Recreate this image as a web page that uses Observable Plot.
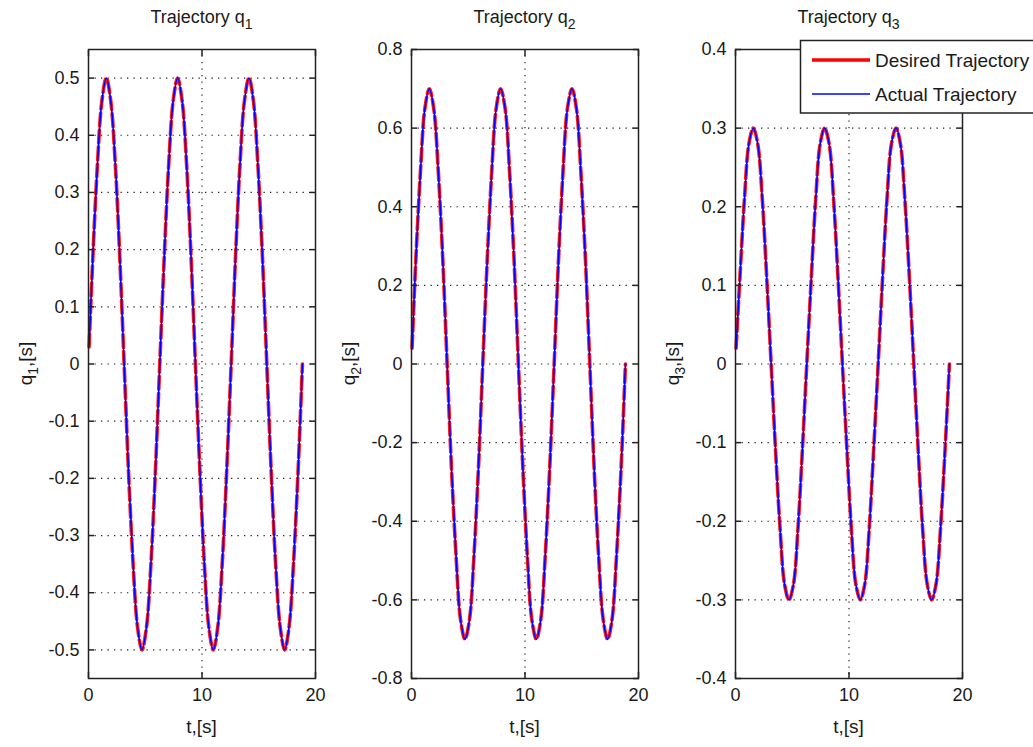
<!DOCTYPE html>
<html>
<head>
<meta charset="utf-8">
<script src="https://cdn.jsdelivr.net/npm/d3@7"></script>
<script src="https://cdn.jsdelivr.net/npm/@observablehq/plot@0.6"></script>
<style>
  body { margin: 0; background: #fff; }
  #wrap { position: relative; width: 1033px; height: 747px; overflow: hidden; background: #fff;
          font-family: "Liberation Sans", Arial, sans-serif; }
  #wrap > svg { position: absolute; top: 0; }
</style>
</head>
<body>
<div id="wrap"></div>
<script>
// ---- data ----
const time = [0.05, 0.39, 0.79, 1.18, 1.57, 1.96, 2.36, 2.75, 3.14, 3.53, 3.93, 4.32, 4.71, 5.11, 5.50, 5.89,
  6.28, 6.68, 7.07, 7.46, 7.85, 8.25, 8.64, 9.03, 9.42, 9.82, 10.21, 10.60, 11.00, 11.39, 11.78, 12.17,
  12.57, 12.96, 13.35, 13.74, 14.14, 14.53, 14.92, 15.32, 15.71, 16.10, 16.49, 16.89, 17.28, 17.67, 18.06, 18.46,
  18.85];

const q1Desired = [0.03, 0.19, 0.35, 0.46, 0.50, 0.46, 0.35, 0.19, 0.00, -0.19, -0.35, -0.46, -0.50, -0.46, -0.35, -0.19,
  0.00, 0.19, 0.35, 0.46, 0.50, 0.46, 0.35, 0.19, 0.00, -0.19, -0.35, -0.46, -0.50, -0.46, -0.35, -0.19,
  0.00, 0.19, 0.35, 0.46, 0.50, 0.46, 0.35, 0.19, 0.00, -0.19, -0.35, -0.46, -0.50, -0.46, -0.35, -0.19,
  0.00];
const q2Desired = [0.04, 0.27, 0.49, 0.65, 0.70, 0.65, 0.49, 0.27, 0.00, -0.27, -0.49, -0.65, -0.70, -0.65, -0.49, -0.27,
  0.00, 0.27, 0.49, 0.65, 0.70, 0.65, 0.49, 0.27, 0.00, -0.27, -0.49, -0.65, -0.70, -0.65, -0.49, -0.27,
  0.00, 0.27, 0.49, 0.65, 0.70, 0.65, 0.49, 0.27, 0.00, -0.27, -0.49, -0.65, -0.70, -0.65, -0.49, -0.27,
  0.00];
const q3Desired = [0.02, 0.11, 0.21, 0.28, 0.30, 0.28, 0.21, 0.11, 0.00, -0.11, -0.21, -0.28, -0.30, -0.28, -0.21, -0.11,
  0.00, 0.11, 0.21, 0.28, 0.30, 0.28, 0.21, 0.11, 0.00, -0.11, -0.21, -0.28, -0.30, -0.28, -0.21, -0.11,
  0.00, 0.11, 0.21, 0.28, 0.30, 0.28, 0.21, 0.11, 0.00, -0.11, -0.21, -0.28, -0.30, -0.28, -0.21, -0.11,
  0.00];
// actual trajectory is visually indistinguishable from the desired one
const q1Actual = [0.03, 0.19, 0.35, 0.46, 0.50, 0.46, 0.35, 0.19, 0.00, -0.19, -0.35, -0.46, -0.50, -0.46, -0.35, -0.19,
  0.00, 0.19, 0.35, 0.46, 0.50, 0.46, 0.35, 0.19, 0.00, -0.19, -0.35, -0.46, -0.50, -0.46, -0.35, -0.19,
  0.00, 0.19, 0.35, 0.46, 0.50, 0.46, 0.35, 0.19, 0.00, -0.19, -0.35, -0.46, -0.50, -0.46, -0.35, -0.19,
  0.00];
const q2Actual = [0.04, 0.27, 0.49, 0.65, 0.70, 0.65, 0.49, 0.27, 0.00, -0.27, -0.49, -0.65, -0.70, -0.65, -0.49, -0.27,
  0.00, 0.27, 0.49, 0.65, 0.70, 0.65, 0.49, 0.27, 0.00, -0.27, -0.49, -0.65, -0.70, -0.65, -0.49, -0.27,
  0.00, 0.27, 0.49, 0.65, 0.70, 0.65, 0.49, 0.27, 0.00, -0.27, -0.49, -0.65, -0.70, -0.65, -0.49, -0.27,
  0.00];
const q3Actual = [0.02, 0.11, 0.21, 0.28, 0.30, 0.28, 0.21, 0.11, 0.00, -0.11, -0.21, -0.28, -0.30, -0.28, -0.21, -0.11,
  0.00, 0.11, 0.21, 0.28, 0.30, 0.28, 0.21, 0.11, 0.00, -0.11, -0.21, -0.28, -0.30, -0.28, -0.21, -0.11,
  0.00, 0.11, 0.21, 0.28, 0.30, 0.28, 0.21, 0.11, 0.00, -0.11, -0.21, -0.28, -0.30, -0.28, -0.21, -0.11,
  0.00];

const panelIndex = ["1", "2", "3"];
const yDomains = [[-0.55, 0.55], [-0.8, 0.8], [-0.4, 0.4]];
const yTicks1 = [-0.5, -0.4, -0.3, -0.2, -0.1, 0, 0.1, 0.2, 0.3, 0.4, 0.5];
const yTicks2 = [-0.8, -0.6, -0.4, -0.2, 0, 0.2, 0.4, 0.6, 0.8];
const yTicks3 = [-0.4, -0.3, -0.2, -0.1, 0, 0.1, 0.2, 0.3, 0.4];
const xDomain = [0, 20];
const xTicks = [0, 10, 20];
const xGrid = [10];
const legendLabels = ["Desired Trajectory", "Actual Trajectory"];
const seriesColors = ["#ff0000", "#0000ff"];

// ---- drawing ----
const FONT = '"Liberation Sans", Arial, sans-serif';
const wrap = document.getElementById("wrap");
const desired = [q1Desired, q2Desired, q3Desired];
const actual = [q1Actual, q2Actual, q3Actual];
const yTicksAll = [yTicks1, yTicks2, yTicks3];

const W = 340, H = 747, ML = 88, MR = 25, MT = 49, MB = 69;
const offsets = [0, 323, 647];
const textColor = "#1a1a1a";

panelIndex.forEach((idx, i) => {
  const rows = time.map((t, j) => ({t, desired: desired[i][j], actual: actual[i][j]}));
  const yt = yTicksAll[i];
  const svg = Plot.plot({
    width: W, height: H,
    marginLeft: ML, marginRight: MR, marginTop: MT, marginBottom: MB,
    style: {fontFamily: FONT, fontSize: "18px", color: textColor, background: "transparent", overflow: "visible"},
    x: {domain: xDomain},
    y: {domain: yDomains[i]},
    marks: [
      Plot.ruleY(yt, {stroke: "#222", strokeWidth: 1.2, strokeDasharray: "1.3,5.2"}),
      Plot.ruleX(xGrid, {stroke: "#222", strokeWidth: 1.2, strokeDasharray: "1.3,5.2"}),
      Plot.line(rows, {x: "t", y: "desired", stroke: seriesColors[0], strokeWidth: 3.6, strokeOpacity: 0.9,
        strokeDasharray: "13,4", curve: "catmull-rom"}),
      Plot.line(rows, {x: "t", y: "actual", stroke: seriesColors[1], strokeWidth: 1.5, curve: "catmull-rom"}),
      Plot.frame({stroke: "#222", strokeWidth: 1.5}),
      Plot.axisY(yt, {anchor: "left", tickSize: 0, tickPadding: 9, tickFormat: d => String(d), label: null}),
      Plot.axisY(yt, {anchor: "left", tickSize: -6, fill: "none", stroke: "#222", strokeWidth: 1.5, label: null}),
      Plot.axisY(yt, {anchor: "right", tickSize: -6, fill: "none", stroke: "#222", strokeWidth: 1.5, label: null}),
      Plot.axisX(xTicks, {anchor: "bottom", tickSize: 0, tickPadding: 10, tickFormat: d => String(d), label: null}),
      Plot.axisX(xTicks, {anchor: "bottom", tickSize: -6, fill: "none", stroke: "#222", strokeWidth: 1.5, label: null}),
      Plot.axisX(xTicks, {anchor: "top", tickSize: -6, fill: "none", stroke: "#222", strokeWidth: 1.5, label: null})
    ]
  });
  svg.style.left = offsets[i] + "px";
  svg.style.position = "absolute";
  const cx = ML + (W - ML - MR) / 2;
  const cy = MT + (H - MT - MB) / 2;
  const s = d3.select(svg);

  // title
  const title = s.append("text").attr("x", cx).attr("y", 23).attr("text-anchor", "middle")
    .attr("fill", textColor).style("font-family", FONT).style("font-size", "18px");
  title.append("tspan").text("Trajectory q");
  title.append("tspan").attr("dy", 6).style("font-size", "14px").text(idx);

  // y label
  const yl = s.append("text").attr("transform", `translate(${ML - 56},${cy}) rotate(-90)`)
    .attr("text-anchor", "middle").attr("fill", textColor).style("font-family", FONT).style("font-size", "19px");
  yl.append("tspan").text("q");
  yl.append("tspan").attr("dy", 6).style("font-size", "14px").text(idx);
  yl.append("tspan").attr("dy", -6).text(",[s]");

  // x label
  s.append("text").attr("x", cx).attr("y", 733).attr("text-anchor", "middle")
    .attr("fill", textColor).style("font-family", FONT).style("font-size", "19px").text("t,[s]");

  wrap.appendChild(svg);
});

// legend (overlaid on the third panel)
const leg = d3.select(wrap).append("svg").attr("width", 1033).attr("height", 747)
  .style("position", "absolute").style("left", "0px").style("top", "0px");
leg.append("rect").attr("x", 800.5).attr("y", 40.5).attr("width", 260).attr("height", 72.5)
  .attr("fill", "#fff").attr("stroke", "#222").attr("stroke-width", 1.5);
const legRows = legendLabels.map((label, k) => ({label, color: seriesColors[k], width: k === 0 ? 3.6 : 1.5, y: k === 0 ? 60 : 94}));
legRows.forEach(r => {
  leg.append("line").attr("x1", 812).attr("x2", 870).attr("y1", r.y).attr("y2", r.y)
    .attr("stroke", r.color).attr("stroke-width", r.width);
  leg.append("text").attr("x", 875).attr("y", r.y + 7).attr("fill", textColor)
    .style("font-family", FONT).style("font-size", "19px").text(r.label);
});
</script>
</body>
</html>
